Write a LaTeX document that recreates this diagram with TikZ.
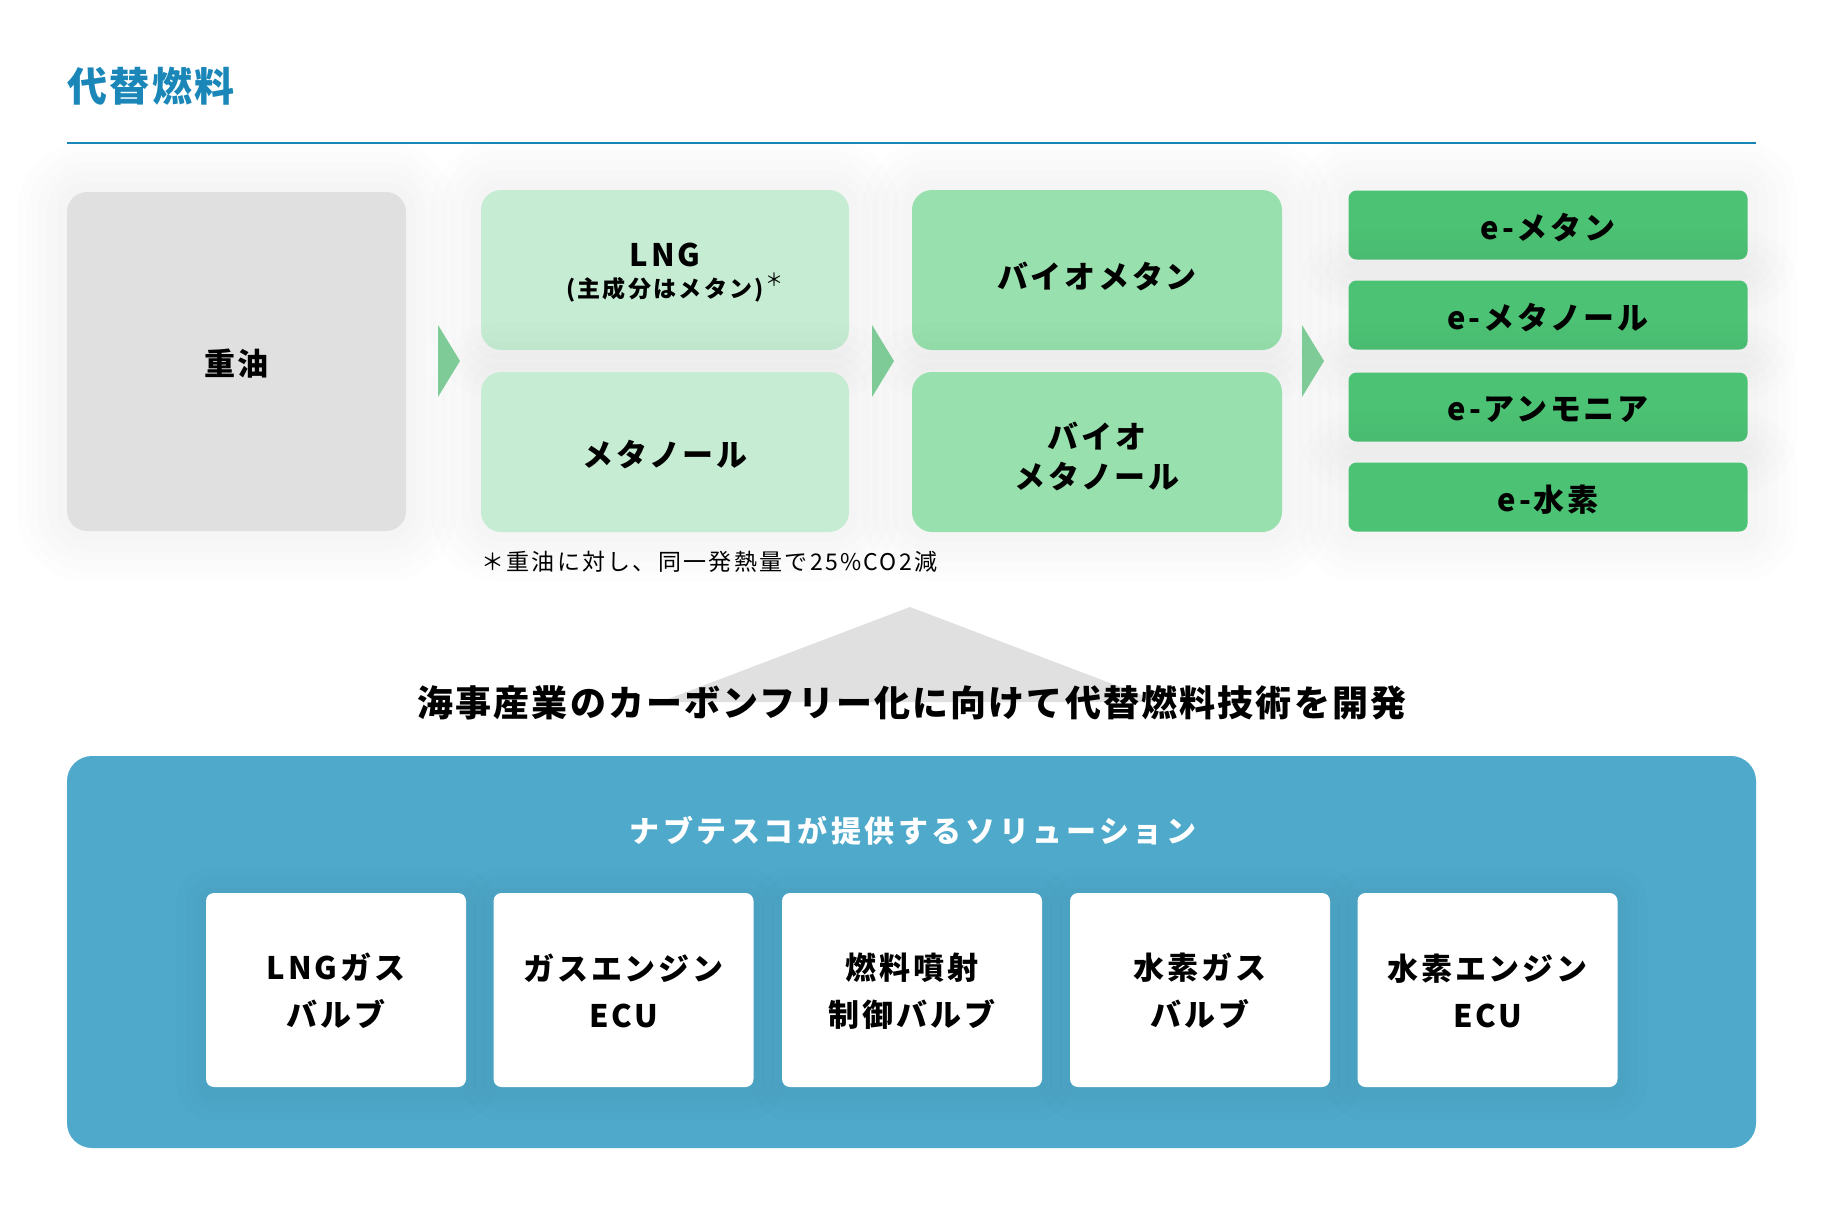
\documentclass[tikz,border=0pt]{standalone}
\usepackage{fontspec}
\setmainfont{Noto Sans CJK JP}
\definecolor{titleblue}{HTML}{1A87B8}
\definecolor{grayfill}{HTML}{E0E0E0}
\definecolor{lgreen}{HTML}{C6EDD3}
\definecolor{mgreen}{HTML}{98E0AE}
\definecolor{dgreen}{HTML}{4CC274}
\definecolor{arrowgreen}{HTML}{7FCB98}
\definecolor{panelblue}{HTML}{4EA9CB}
\newcommand\lbl{\fontsize{31}{40}\selectfont\bfseries\addfontfeatures{LetterSpace=9}}
\newcommand\wlbl{\fontsize{31}{47}\selectfont\bfseries\addfontfeatures{LetterSpace=9}}
\newcommand\dn[2]{\raisebox{-#1}[\height][\depth]{#2}}
\begin{document}
\begin{tikzpicture}[x=1pt,y=-1pt,
  sh/.style={preaction={draw=black,draw opacity=0.006,line width=100pt},
             preaction={draw=black,draw opacity=0.006,line width=80pt},
             preaction={draw=black,draw opacity=0.007,line width=60pt},
             preaction={draw=black,draw opacity=0.007,line width=40pt},
             preaction={draw=black,draw opacity=0.008,line width=20pt}},
  shb/.style={preaction={draw=black,draw opacity=0.008,line width=60pt,transform canvas={yshift=-4pt}},
             preaction={draw=black,draw opacity=0.010,line width=40pt,transform canvas={yshift=-4pt}},
             preaction={draw=black,draw opacity=0.012,line width=20pt,transform canvas={yshift=-4pt}}},
  fuelbox/.style={sh, rounded corners=20pt, inner sep=0pt, align=center, font=\lbl},
  ebox/.style={sh, fill=dgreen, rounded corners=8pt, inner sep=0pt, minimum width=399pt, minimum height=69pt, font=\lbl},
  solbox/.style={shb, fill=white, rounded corners=8pt, inner sep=0pt, align=center, minimum width=260pt, minimum height=194pt, font=\wlbl},
  chev/.style={fill=arrowgreen}
]
\useasboundingbox (0,0) rectangle (1838,1204);
\fill[white] (0,0) rectangle (1838,1204);

% title
\node[anchor=west, text=titleblue, inner sep=0pt, font=\fontsize{40}{42}\selectfont\bfseries\addfontfeatures{LetterSpace=6}] (title) at (67,86) {代替燃料};
\coordinate (lineL) at (67,143);
\coordinate (lineR) at (1756,143);
\draw[titleblue, line width=2pt] (lineL) -- (lineR);

% fuel boxes
\node[fuelbox, fill=grayfill, minimum width=339pt, minimum height=339pt] (juyu) at (236.5,361.5) {\dn{2.5pt}{重油}};
\node[fuelbox, fill=lgreen, minimum width=368pt, minimum height=160pt] (lng) at (665,270) {\rule{0pt}{29pt}LNG\\[-9pt]{\fontsize{23}{28}\selectfont\bfseries\addfontfeatures{LetterSpace=10}(主成分はメタン)\rlap{\hspace{2pt}\raisebox{11pt}[0pt][0pt]{\mdseries\fontsize{18}{18}\selectfont ＊}}}};
\node[fuelbox, fill=lgreen, minimum width=368pt, minimum height=160pt] (meth) at (665,452) {\dn{2.5pt}{メタノール}};
\node[fuelbox, fill=mgreen, minimum width=370pt, minimum height=160pt] (biometh) at (1097,270) {\dn{6pt}{バイオメタン}};
\node[fuelbox, fill=mgreen, minimum width=370pt, minimum height=160pt] (biomethol) at (1097,452) {\rule{0pt}{35pt}バイオ\\メタノール};

\node[ebox] (e1) at (1548,225) {\dn{2.5pt}{e-メタン}};
\node[ebox] (e2) at (1548,315) {\dn{2.5pt}{e-メタノール}};
\node[ebox] (e3) at (1548,407) {\dn{2.5pt}{e-アンモニア}};
\node[ebox] (e4) at (1548,497) {\dn{3pt}{e-水素}};

% chevrons
\coordinate (c1) at (438,361);
\coordinate (c2) at (872,361);
\coordinate (c3) at (1302,361);
\foreach \c in {c1,c2,c3}
  \fill[chev] (\c) ++(0,-36) -- ++(22,36) -- ++(-22,36) -- cycle;

% footnote
\node[anchor=west, inner sep=0pt, font=\fontsize{23}{26}\selectfont\addfontfeatures{LetterSpace=10}] (note) at (481,562) {＊重油に対し、同一発熱量で25\%CO2減};

% triangle
\coordinate (tA) at (910,607);
\coordinate (tL) at (660,702);
\coordinate (tR) at (1160,702);
\fill[grayfill] (tA) -- (tL) -- (tR) -- cycle;

\node[inner sep=0pt, font=\fontsize{36}{40}\selectfont\bfseries\addfontfeatures{LetterSpace=6}] (head) at (912,703) {海事産業のカーボンフリー化に向けて代替燃料技術を開発};

% panel
\node[fill=panelblue, rounded corners=25pt, minimum width=1689pt, minimum height=392pt, inner sep=0pt] (panel) at (911.5,952) {};
\node[inner sep=0pt, text=white, font=\fontsize{30}{32}\selectfont\bfseries\addfontfeatures{LetterSpace=12}] (ptitle) at (913,831) {ナブテスコが提供するソリューション};

\node[solbox] (s1) at (336,990) {\rule{0pt}{28pt}LNGガス\\バルブ};
\node[solbox] (s2) at (623.5,990) {\rule{0pt}{28pt}ガスエンジン\\ECU};
\node[solbox] (s3) at (912,990) {\rule{0pt}{28pt}燃料噴射\\制御バルブ};
\node[solbox] (s4) at (1200,990) {\rule{0pt}{28pt}水素ガス\\バルブ};
\node[solbox] (s5) at (1487.5,990) {\rule{0pt}{28pt}水素エンジン\\ECU};
\end{tikzpicture}
\end{document}
